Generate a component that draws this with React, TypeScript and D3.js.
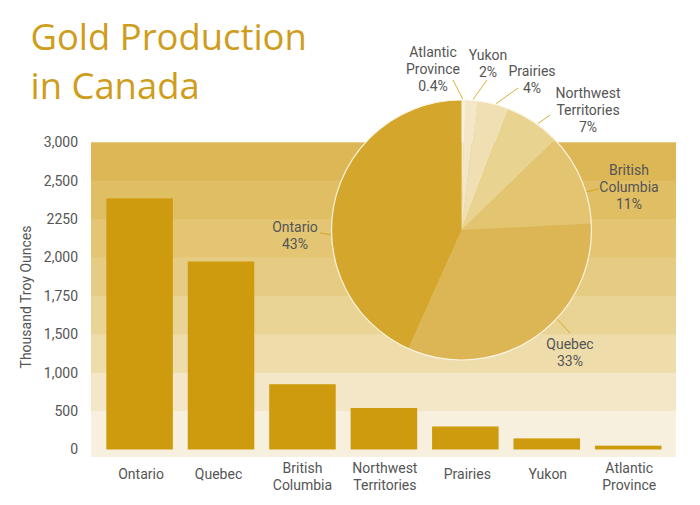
import * as d3 from "d3";
import { useEffect, useRef } from "react";

const barCategories = [
  ["Ontario"],
  ["Quebec"],
  ["British", "Columbia"],
  ["Northwest", "Territories"],
  ["Prairies"],
  ["Yukon"],
  ["Atlantic", "Province"],
];
const barValues = [2385, 1974, 850, 540, 300, 145, 50];

// the axis in the picture is not evenly spaced: 1,250 is skipped, 2250 has no comma
const tickValues = [0, 500, 1000, 1500, 1750, 2000, 2250, 2500, 3000];
const tickLabels = ["0", "500", "1,000", "1,500", "1,750", "2,000", "2250", "2,500", "3,000"];

// clockwise from 12 o'clock
const pieLabels = [
  ["Atlantic", "Province", "0.4%"],
  ["Yukon", "2%"],
  ["Prairies", "4%"],
  ["Northwest", "Territories", "7%"],
  ["British", "Columbia", "11%"],
  ["Quebec", "33%"],
  ["Ontario", "43%"],
];
// wedge sizes as drawn in the picture, they differ a bit from the printed labels
const pieValues = [0.4, 1.5, 3.9, 7, 11.4, 32.5, 43.3];
const pieColors = ["#f8f0df", "#f4e7c8", "#efdfb2", "#e9d391", "#e3c470", "#dcb655", "#d4a72c"];
const bandColors = ["#f8f0df", "#f4e7c7", "#eedcab", "#ead495", "#e6cc83", "#e3c574", "#e0be64", "#ddb756"];

const textColor = "#555";
const labelFont = "Roboto, sans-serif";

const App = () => {
  const ref = useRef<SVGSVGElement>(null);

  useEffect(() => {
    const width = 700;
    const height = 505;
    const svg = d3.select(ref.current);
    svg.selectAll("*").remove();

    const y = d3
      .scaleLinear()
      .domain(tickValues)
      .range(tickValues.map((_, i) => 449.5 - i * 38.4));
    const x = d3
      .scaleBand<number>()
      .domain(d3.range(barValues.length))
      .range([99, 668.8])
      .paddingInner(0.183)
      .paddingOuter(0.09);

    // background bands, top one first, each runs to the bottom so no seams show
    const bandBottom = y(0) + 7.5;
    svg
      .append("g")
      .selectAll("rect")
      .data(d3.range(bandColors.length).reverse())
      .join("rect")
      .attr("x", 91)
      .attr("width", 585)
      .attr("y", (i) => y(tickValues[i + 1]))
      .attr("height", (i) => bandBottom - y(tickValues[i + 1]))
      .attr("fill", (i) => bandColors[i]);

    // bars
    svg
      .append("g")
      .selectAll("rect")
      .data(barValues)
      .join("rect")
      .attr("x", (_, i) => x(i)!)
      .attr("width", x.bandwidth())
      .attr("y", (d) => y(d))
      .attr("height", (d) => y(0) - y(d))
      .attr("fill", "#cf9b0e");

    // y axis
    svg
      .append("g")
      .selectAll("text")
      .data(tickValues)
      .join("text")
      .attr("x", 78)
      .attr("y", (d) => y(d))
      .attr("dy", "0.35em")
      .attr("text-anchor", "end")
      .attr("font-family", labelFont)
      .attr("font-size", 14)
      .attr("fill", textColor)
      .text((_, i) => tickLabels[i]);

    svg
      .append("text")
      .attr("transform", "translate(31,297) rotate(-90)")
      .attr("text-anchor", "middle")
      .attr("font-family", labelFont)
      .attr("font-size", 14)
      .attr("fill", textColor)
      .text("Thousand Troy Ounces");

    // x axis, one and two line labels
    const xNudge = [1.5, -2.5, 0, 1, 2, 1, 1];
    const xLabels = svg
      .append("g")
      .selectAll("text")
      .data(barCategories)
      .join("text")
      .attr("text-anchor", "middle")
      .attr("font-family", labelFont)
      .attr("font-size", 14)
      .attr("fill", textColor)
      .attr("y", (d) => (d.length === 1 ? 479 : 473));
    xLabels
      .selectAll("tspan")
      .data((d, i) => d.map((t) => ({ t, i })))
      .join("tspan")
      .attr("x", (d) => x(d.i)! + x.bandwidth() / 2 + xNudge[d.i])
      .attr("dy", (_, j) => (j === 0 ? 0 : 17.2))
      .text((d) => d.t);

    // pie
    const cx = 461.5;
    const cy = 230;
    const r = 130;
    const pie = d3.pie<number>().sort(null);
    const arcs = pie(pieValues);
    const arc = d3.arc<d3.PieArcDatum<number>>().innerRadius(0).outerRadius(r);

    const pieG = svg.append("g").attr("transform", `translate(${cx},${cy})`);
    pieG
      .selectAll("path")
      .data(arcs)
      .join("path")
      .attr("d", arc)
      .attr("fill", (_, i) => pieColors[i]);
    pieG
      .append("circle")
      .attr("r", r)
      .attr("fill", "none")
      .attr("stroke", "#fbf4e2")
      .attr("stroke-width", 1.2);

    // leader lines: rim angle in degrees (not always the slice's middle) out to the label
    const leaderAngles = [0.5, 5, 15.3, 35.7, 73, 133, 268];
    const leaderEnds = [
      [453, 80],
      [487, 80],
      [518, 88],
      [550, 115],
      [599, 189],
      [570, 333],
      [320, 233],
    ];
    const rimPoint = (deg: number) => {
      const a = (deg * Math.PI) / 180;
      return [cx + (r + 1) * Math.sin(a), cy - (r + 1) * Math.cos(a)];
    };
    svg
      .append("g")
      .selectAll("line")
      .data(leaderAngles)
      .join("line")
      .attr("x1", (d) => rimPoint(d)[0])
      .attr("y1", (d) => rimPoint(d)[1])
      .attr("x2", (_, i) => leaderEnds[i][0])
      .attr("y2", (_, i) => leaderEnds[i][1])
      .attr("stroke", "#cf9b0e")
      .attr("stroke-opacity", 0.8)
      .attr("stroke-width", 1);

    // pie label anchor: centre x and first baseline y
    const pieLabelPos = [
      [433, 57],
      [488, 60],
      [532, 76],
      [588, 98],
      [629, 175],
      [570, 349],
      [295, 231.5],
    ];
    const pieText = svg
      .append("g")
      .selectAll("text")
      .data(pieLabels)
      .join("text")
      .attr("text-anchor", "middle")
      .attr("font-family", labelFont)
      .attr("font-size", 14)
      .attr("fill", textColor)
      .attr("y", (_, i) => pieLabelPos[i][1]);
    pieText
      .selectAll("tspan")
      .data((d, i) => d.map((t) => ({ t, i })))
      .join("tspan")
      .attr("x", (d) => pieLabelPos[d.i][0])
      .attr("dy", (_, j) => (j === 0 ? 0 : 17.2))
      .text((d) => d.t);

    // title
    svg
      .append("text")
      .attr("font-family", "'Open Sans', sans-serif")
      .attr("font-size", 36.4)
      .attr("fill", "#cf9c1c")
      .selectAll("tspan")
      .data(["Gold Production", "in Canada"])
      .join("tspan")
      .attr("x", 30.5)
      .attr("y", (_, i) => 50 + i * 48.5)
      .text((d) => d);

    svg.attr("width", width).attr("height", height);
  }, []);

  return (
    <svg
      ref={ref}
      style={{ position: "absolute", left: 0, top: 0, background: "#fff" }}
    />
  );
};

export default App;
